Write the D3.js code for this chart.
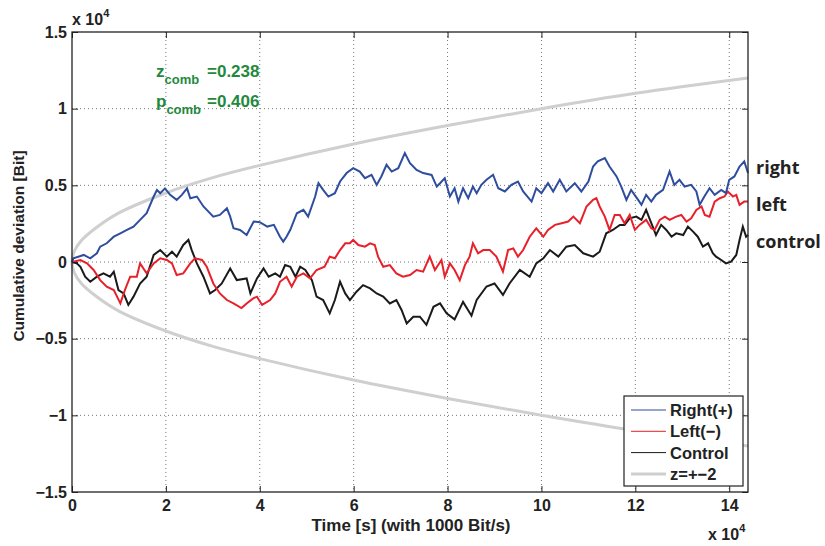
<!DOCTYPE html>
<html>
<head>
<meta charset="utf-8">
<script src="https://cdn.jsdelivr.net/npm/d3@7"></script>
<style>
  body { margin: 0; background: #fff; }
  text { font-family: "Liberation Sans", Arial, sans-serif; font-weight: bold; fill: #222; }
</style>
</head>
<body>
<div class="content"></div>
<script>
// values in units of 1e4 (axis multiplier "x 10^4")
var xTicks = [0, 2, 4, 6, 8, 10, 12, 14];
var yTicks = [-1.5, -1, -0.5, 0, 0.5, 1, 1.5];

var rightT = [0, 0.03, 0.25, 0.39, 0.53, 0.6, 0.74, 0.89, 1.03, 1.17, 1.31, 1.45, 1.59, 1.74, 1.81, 1.88, 1.98, 2.09, 2.23, 2.34, 2.45, 2.52, 2.66, 2.8, 3.01, 3.15, 3.3, 3.37, 3.44, 3.58, 3.72, 3.87, 4.0, 4.16, 4.3, 4.43, 4.5, 4.57, 4.65, 4.79, 4.93, 5.03, 5.18, 5.25, 5.35, 5.46, 5.6, 5.71, 5.85, 5.99, 6.13, 6.24, 6.38, 6.49, 6.59, 6.7, 6.81, 6.95, 7.09, 7.2, 7.34, 7.48, 7.66, 7.77, 7.84, 7.94, 8.05, 8.15, 8.23, 8.33, 8.44, 8.54, 8.62, 8.72, 8.83, 8.97, 9.08, 9.22, 9.36, 9.5, 9.61, 9.79, 9.89, 10.0, 10.14, 10.25, 10.39, 10.53, 10.71, 10.85, 11.0, 11.1, 11.2, 11.35, 11.45, 11.6, 11.7, 11.81, 11.91, 12.06, 12.13, 12.23, 12.34, 12.44, 12.59, 12.73, 12.83, 12.94, 13.05, 13.19, 13.3, 13.37, 13.47, 13.58, 13.69, 13.83, 13.93, 14.0, 14.11, 14.22, 14.32, 14.4];
var rightV = [0, 0.024, 0.046, 0.024, 0.057, 0.1, 0.122, 0.165, 0.187, 0.209, 0.231, 0.275, 0.318, 0.427, 0.47, 0.448, 0.48, 0.438, 0.405, 0.438, 0.48, 0.416, 0.427, 0.362, 0.296, 0.307, 0.35, 0.296, 0.22, 0.209, 0.176, 0.264, 0.26, 0.231, 0.242, 0.165, 0.133, 0.165, 0.21, 0.318, 0.34, 0.296, 0.427, 0.514, 0.47, 0.427, 0.449, 0.525, 0.58, 0.612, 0.59, 0.547, 0.568, 0.503, 0.558, 0.634, 0.59, 0.612, 0.71, 0.645, 0.6, 0.58, 0.568, 0.492, 0.514, 0.547, 0.427, 0.481, 0.394, 0.481, 0.416, 0.492, 0.449, 0.503, 0.536, 0.569, 0.481, 0.46, 0.503, 0.525, 0.46, 0.394, 0.481, 0.449, 0.514, 0.46, 0.536, 0.46, 0.514, 0.46, 0.525, 0.623, 0.656, 0.678, 0.623, 0.558, 0.492, 0.405, 0.47, 0.405, 0.373, 0.438, 0.394, 0.438, 0.47, 0.59, 0.503, 0.536, 0.492, 0.503, 0.46, 0.373, 0.427, 0.481, 0.438, 0.47, 0.449, 0.536, 0.558, 0.623, 0.656, 0.58];

var leftT = [0, 0.18, 0.32, 0.46, 0.6, 0.74, 0.89, 0.96, 1.03, 1.13, 1.24, 1.38, 1.45, 1.59, 1.74, 1.88, 2.02, 2.13, 2.23, 2.37, 2.52, 2.62, 2.77, 2.87, 3.01, 3.15, 3.3, 3.44, 3.61, 3.72, 3.86, 3.94, 4.05, 4.22, 4.33, 4.43, 4.57, 4.68, 4.79, 4.93, 5.07, 5.21, 5.38, 5.49, 5.6, 5.71, 5.82, 5.92, 5.99, 6.1, 6.24, 6.35, 6.45, 6.52, 6.63, 6.77, 6.91, 7.05, 7.2, 7.34, 7.48, 7.62, 7.73, 7.87, 7.94, 8.05, 8.15, 8.26, 8.37, 8.47, 8.54, 8.65, 8.76, 8.9, 9.04, 9.18, 9.29, 9.4, 9.5, 9.61, 9.75, 9.89, 10.04, 10.14, 10.29, 10.43, 10.57, 10.68, 10.82, 10.96, 11.1, 11.17, 11.24, 11.35, 11.45, 11.56, 11.67, 11.77, 11.88, 11.99, 12.09, 12.23, 12.34, 12.41, 12.52, 12.63, 12.73, 12.87, 12.98, 13.09, 13.19, 13.3, 13.41, 13.48, 13.58, 13.69, 13.8, 13.9, 13.97, 14.08, 14.15, 14.22, 14.32, 14.4];
var leftV = [0, 0.013, -0.009, -0.052, -0.118, -0.161, -0.183, -0.226, -0.27, -0.18, -0.096, -0.096, -0.009, -0.074, -0.009, 0.024, 0.013, -0.009, -0.085, -0.074, -0.009, 0.024, 0.013, -0.031, -0.14, -0.205, -0.248, -0.27, -0.3, -0.27, -0.237, -0.226, -0.28, -0.248, -0.205, -0.129, -0.096, -0.161, -0.096, -0.074, -0.107, -0.052, -0.031, 0.035, 0.024, 0.078, 0.122, 0.122, 0.144, 0.111, 0.1, 0.122, 0.111, 0.035, -0.031, -0.02, -0.074, -0.096, -0.085, -0.052, -0.063, 0.035, -0.052, 0.013, -0.096, -0.009, -0.052, -0.118, -0.02, 0.035, 0.122, 0.057, 0.078, 0.078, 0.035, -0.063, 0.078, 0.089, 0.035, 0.078, 0.165, 0.22, 0.165, 0.209, 0.242, 0.253, 0.264, 0.296, 0.253, 0.362, 0.405, 0.416, 0.362, 0.296, 0.209, 0.307, 0.307, 0.253, 0.307, 0.209, 0.242, 0.275, 0.22, 0.209, 0.275, 0.296, 0.275, 0.296, 0.307, 0.264, 0.285, 0.34, 0.362, 0.307, 0.296, 0.394, 0.416, 0.427, 0.46, 0.427, 0.438, 0.373, 0.394, 0.394];

var controlT = [0, 0.1, 0.18, 0.28, 0.39, 0.53, 0.67, 0.81, 0.89, 0.99, 1.1, 1.2, 1.31, 1.45, 1.59, 1.74, 1.88, 2.02, 2.13, 2.23, 2.37, 2.48, 2.55, 2.66, 2.8, 2.94, 3.05, 3.19, 3.37, 3.51, 3.72, 3.8, 3.94, 4.08, 4.19, 4.33, 4.43, 4.54, 4.65, 4.76, 4.86, 4.97, 5.11, 5.21, 5.35, 5.49, 5.6, 5.71, 5.82, 5.92, 6.06, 6.2, 6.35, 6.49, 6.63, 6.77, 6.91, 7.02, 7.13, 7.27, 7.41, 7.55, 7.7, 7.84, 7.98, 8.15, 8.33, 8.51, 8.62, 8.83, 9.0, 9.18, 9.32, 9.54, 9.75, 9.89, 10.04, 10.18, 10.36, 10.53, 10.71, 10.89, 11.1, 11.24, 11.38, 11.52, 11.67, 11.77, 11.88, 12.02, 12.13, 12.23, 12.3, 12.37, 12.44, 12.55, 12.66, 12.77, 12.87, 13.02, 13.12, 13.23, 13.33, 13.44, 13.55, 13.65, 13.72, 13.83, 13.93, 14.04, 14.15, 14.22, 14.29, 14.36, 14.4];
var controlV = [0, -0.009, -0.031, -0.096, -0.129, -0.096, -0.074, -0.096, -0.063, -0.183, -0.205, -0.28, -0.226, -0.14, -0.096, 0.046, 0.078, 0.035, 0.067, 0.035, 0.111, 0.144, 0.078, -0.009, -0.096, -0.205, -0.183, -0.14, -0.042, -0.118, -0.107, -0.205, -0.107, -0.042, -0.096, -0.074, -0.096, -0.02, -0.031, -0.096, -0.031, -0.052, -0.118, -0.226, -0.248, -0.335, -0.248, -0.129, -0.205, -0.248, -0.194, -0.151, -0.172, -0.205, -0.226, -0.27, -0.248, -0.313, -0.4, -0.357, -0.357, -0.41, -0.292, -0.27, -0.335, -0.374, -0.26, -0.35, -0.248, -0.16, -0.14, -0.215, -0.14, -0.052, -0.096, -0.009, 0.024, 0.078, 0.035, 0.1, 0.111, 0.057, 0.035, 0.067, 0.187, 0.209, 0.242, 0.242, 0.285, 0.296, 0.275, 0.34, 0.285, 0.231, 0.176, 0.242, 0.209, 0.165, 0.187, 0.176, 0.231, 0.198, 0.165, 0.1, 0.122, 0.057, 0.035, 0.013, -0.009, 0.002, 0.046, 0.144, 0.231, 0.165, 0.176];

// z = +-2 envelope, upper branch (lower branch is its mirror)
var boundT = [0, 0.05, 0.2, 0.5, 1, 2, 3, 4, 6, 8, 10, 12, 14.4];
var boundV = [0, 0.07, 0.14, 0.22, 0.32, 0.45, 0.55, 0.63, 0.77, 0.89, 1.0, 1.1, 1.2];

var seriesNames = ["Right(+)", "Left(\u2212)", "Control", "z=+\u22122"];
var seriesColors = ["#2f4d9e", "#e8202a", "#1a1a1a", "#cfcfcf"];
var endLabels = ["right", "left", "control"];

var W = 825, H = 546;
var margin = {top: 32, right: 77, bottom: 54, left: 72};
var width = W - margin.left - margin.right,
    height = H - margin.top - margin.bottom;

var svg = d3.select('.content').append('svg').attr('width', W).attr('height', H);
var g = svg.append('g').attr('transform', 'translate(' + margin.left + ',' + margin.top + ')');

var x = d3.scaleLinear().domain([0, 14.4]).range([0, width]);
var y = d3.scaleLinear().domain([-1.5, 1.5]).range([height, 0]);

// grid
g.append('g').selectAll('line').data(xTicks.filter(function(d){return d > 0;})).enter().append('line')
  .attr('x1', function(d){return x(d);}).attr('x2', function(d){return x(d);})
  .attr('y1', 0).attr('y2', height)
  .attr('stroke', '#777').attr('stroke-dasharray', '1,3');
g.append('g').selectAll('line').data(yTicks.filter(function(d){return d > -1.5 && d < 1.5;})).enter().append('line')
  .attr('x1', 0).attr('x2', width)
  .attr('y1', function(d){return y(d);}).attr('y2', function(d){return y(d);})
  .attr('stroke', '#777').attr('stroke-dasharray', '1,3');

function zip(ts, vs) { return ts.map(function(t, i){ return [t, vs[i]]; }); }

// envelope: upper branch reversed, then lower branch
var bound = zip(boundT, boundV).reverse().concat(zip(boundT, boundV.map(function(v){return -v;})).slice(1));
g.append('path').datum(bound)
  .attr('d', d3.line().x(function(d){return x(d[0]);}).y(function(d){return y(d[1]);}).curve(d3.curveCatmullRom))
  .attr('fill', 'none').attr('stroke', seriesColors[3]).attr('stroke-width', 3);

var line = d3.line().x(function(d){return x(d[0]);}).y(function(d){return y(d[1]);});
var walks = [zip(rightT, rightV), zip(leftT, leftV), zip(controlT, controlV)];
[2, 1, 0].forEach(function(i) {
  g.append('path').datum(walks[i]).attr('d', line)
    .attr('fill', 'none').attr('stroke', seriesColors[i]).attr('stroke-width', 2)
    .attr('stroke-linejoin', 'miter');
});

// axes with inward ticks on all sides
function styleAxis(a) {
  a.select('.domain').remove();
  a.selectAll('.tick line').attr('stroke', '#222');
  a.selectAll('.tick text').attr('font-size', 16).attr('font-family', '"Liberation Sans", Arial, sans-serif').attr('font-weight', 'bold').attr('fill', '#222');
}
function fmt(d) { return String(d).replace('-', '\u2212'); }
var xa = g.append('g').attr('transform', 'translate(0,' + height + ')')
  .call(d3.axisBottom(x).tickValues(xTicks).tickSize(-6).tickPadding(8).tickFormat(fmt));
styleAxis(xa);
var xt = g.append('g').call(d3.axisTop(x).tickValues(xTicks).tickSize(-6).tickFormat(''));
styleAxis(xt);
var ya = g.append('g').call(d3.axisLeft(y).tickValues(yTicks).tickSize(-6).tickPadding(5).tickFormat(fmt));
styleAxis(ya);
var yr = g.append('g').attr('transform', 'translate(' + width + ',0)')
  .call(d3.axisRight(y).tickValues(yTicks).tickSize(-6).tickFormat(''));
styleAxis(yr);
g.append('rect').attr('width', width).attr('height', height)
  .attr('fill', 'none').attr('stroke', '#222').attr('stroke-width', 1.3);

// multipliers
var m1 = svg.append('text').attr('x', 72).attr('y', 25).attr('font-size', 16).text('x 10');
m1.append('tspan').attr('dy', -8).attr('font-size', 11).text('4');
var m2 = svg.append('text').attr('x', 708).attr('y', 540).attr('font-size', 16).text('x 10');
m2.append('tspan').attr('dy', -8).attr('font-size', 11).text('4');

// axis labels
svg.append('text').attr('x', margin.left + width / 2 + 1).attr('y', 531).attr('text-anchor', 'middle')
  .attr('font-size', 17).text('Time [s] (with 1000 Bit/s)');
svg.append('text').attr('transform', 'translate(24,246) rotate(-90)').attr('text-anchor', 'middle')
  .attr('font-size', 15.5).text('Cumulative deviation [Bit]');

// combined stats
var green = '#1f8a3e';
var s1 = svg.append('text').attr('x', 156).attr('y', 77).style('fill', green).attr('font-size', 17);
s1.append('tspan').text('z');
s1.append('tspan').attr('dy', 7).attr('font-size', 13).text('comb');
s1.append('tspan').attr('x', 207).attr('dy', -7).text('=0.238');
var s2 = svg.append('text').attr('x', 156).attr('y', 107).style('fill', green).attr('font-size', 17);
s2.append('tspan').text('p');
s2.append('tspan').attr('dy', 7).attr('font-size', 13).text('comb');
s2.append('tspan').attr('x', 207).attr('dy', -7).text('=0.406');

// end labels
var endBase = [174, 211, 248];
endLabels.forEach(function(l, i) {
  svg.append('text').attr('x', 756).attr('y', endBase[i])
    .style('font-family', '"Open Sans", sans-serif').attr('font-size', 18).text(l);
});

// legend
var lg = svg.append('g').attr('transform', 'translate(624,396)');
lg.append('rect').attr('width', 119).attr('height', 90).attr('fill', '#fff').attr('stroke', '#222').attr('stroke-width', 1.2);
seriesNames.forEach(function(n, i) {
  var yy = 14 + i * 21.3;
  lg.append('line').attr('x1', 7).attr('x2', 42).attr('y1', yy).attr('y2', yy)
    .attr('stroke', seriesColors[i]).attr('stroke-width', i === 3 ? 3 : 1);
  lg.append('text').attr('x', 46).attr('y', yy + 6).attr('font-size', 16.5).text(n);
});
</script>
</body>
</html>
